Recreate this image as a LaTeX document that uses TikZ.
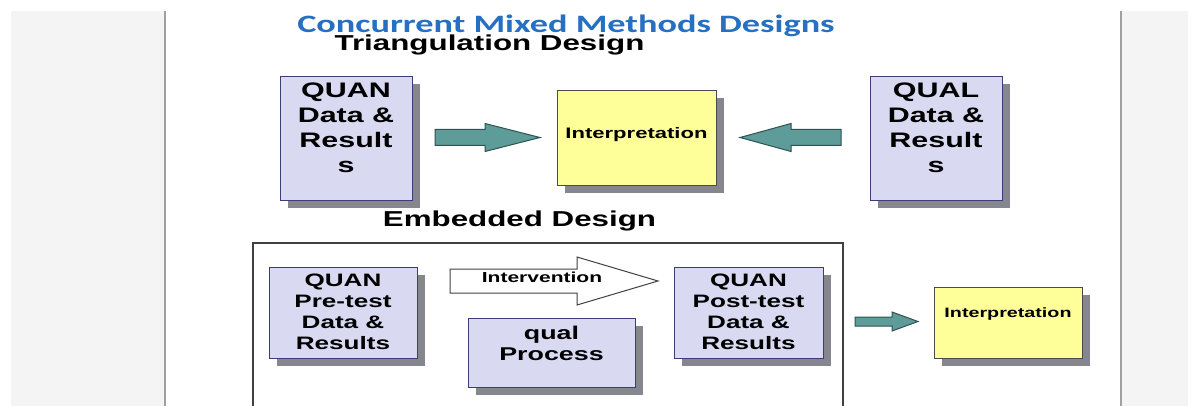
\documentclass[tikz,border=0pt]{standalone}
\usepackage{fontspec}
\setmainfont{Liberation Sans}[FakeStretch=1.45]
\newfontfamily\titlefont{Carlito}[FakeStretch=1.45]
\usetikzlibrary{shadows}

\definecolor{titleblue}{HTML}{2670C4}
\definecolor{boxfill}{HTML}{D9D9F2}
\definecolor{boxline}{HTML}{3C3C78}
\definecolor{notefill}{HTML}{FFFF99}
\definecolor{noteline}{HTML}{4A4A4A}
\definecolor{shadowgray}{HTML}{86868F}
\definecolor{arrowteal}{HTML}{5E9C99}
\definecolor{arrowline}{HTML}{2F5250}
\definecolor{panelgray}{HTML}{F4F4F4}
\definecolor{rulegray}{HTML}{A0A0A0}
\definecolor{frameline}{HTML}{404040}

\tikzset{
  boxshadow/.style={drop shadow={shadow xshift=7pt, shadow yshift=-7pt, fill=shadowgray, opacity=1}},
  datbox/.style={draw=boxline, fill=boxfill, line width=1.2pt, inner sep=0pt, anchor=north west, boxshadow},
  notebox/.style={draw=noteline, fill=notefill, line width=1.2pt, inner sep=0pt, anchor=north west, boxshadow},
  % multi-line labels are anchored at the baseline of their last line
  boxtext/.style={inner sep=0pt, align=center, anchor=base, font=\bfseries},
  heading/.style={inner sep=0pt, anchor=base, font=\bfseries\fontsize{21.6}{26}\selectfont},
  tealarrow/.style={fill=arrowteal, draw=arrowline, line width=1pt, line join=miter},
  openarrow/.style={fill=white, draw=frameline, line width=1pt, line join=miter},
}

\begin{document}
\begin{tikzpicture}[x=1pt, y=-1pt]
\useasboundingbox (0,0) rectangle (1198,406);

% slide background and side panels
\fill[white] (0,0) rectangle (1198,406);
\fill[panelgray] (11,11) rectangle (165,406);
\fill[panelgray] (1121,11) rectangle (1188,406);
\draw[rulegray, line width=2.5pt] (165,11) -- (165,406);
\draw[rulegray, line width=2.5pt] (1121,11) -- (1121,406);

% titles
\node[inner sep=0pt, anchor=base, text=titleblue, font=\titlefont\bfseries\fontsize{25}{30}\selectfont]
  (title) at (566,33) {Concurrent Mixed Methods Designs};
\node[heading] (tri) at (489.5,51) {Triangulation Design};
\node[heading] (emb) at (519.5,226) {Embedded Design};

% ---- triangulation design ----
\node[datbox, minimum width=132pt, minimum height=124pt] (quanA) at (280,76) {};
\node[boxtext, font=\bfseries\fontsize{21}{25}\selectfont] (quanAt) at (346,173) {QUAN\\Data \&\\Result\\s};

\node[notebox, minimum width=159pt, minimum height=95pt] (interA) at (557,90) {};
\node[boxtext, font=\bfseries\fontsize{15.2}{18}\selectfont] (interAt) at (636.5,139) {Interpretation};

\node[datbox, minimum width=132pt, minimum height=124pt] (qualA) at (870,76) {};
\node[boxtext, font=\bfseries\fontsize{21}{25}\selectfont] (qualAt) at (936,173) {QUAL\\Data \&\\Result\\s};

% block arrows towards the interpretation
\draw[tealarrow] (435,129.5) -- (485,129.5) -- (485,123.5) -- (540,137.5)
  -- (485,151.5) -- (485,145.5) -- (435,145.5) -- cycle;
\draw[tealarrow] (841,129.5) -- (791,129.5) -- (791,123.5) -- (740,137.5)
  -- (791,151.5) -- (791,145.5) -- (841,145.5) -- cycle;

% ---- embedded design ----
\draw[frameline, line width=1.3pt] (253,410) -- (253,243) -- (843,243) -- (843,410);

\node[datbox, minimum width=148pt, minimum height=91pt] (pre) at (269,267) {};
\node[boxtext, font=\bfseries\fontsize{18}{20.7}\selectfont] (pret) at (343,349) {QUAN\\Pre-test\\Data \&\\Results};

\node[datbox, minimum width=167pt, minimum height=69pt] (qualB) at (468,318) {};
\node[boxtext, font=\bfseries\fontsize{18.5}{21}\selectfont] (qualBt) at (551.5,360) {qual\\Process};

\node[datbox, minimum width=149pt, minimum height=91pt] (post) at (674,267) {};
\node[boxtext, font=\bfseries\fontsize{18}{20.7}\selectfont] (postt) at (748.5,349) {QUAN\\Post-test\\Data \&\\Results};

% intervention arrow
\draw[openarrow] (450,269) -- (577,269) -- (577,257) -- (658,281)
  -- (577,305) -- (577,293) -- (450,293) -- cycle;
\node[boxtext, font=\bfseries\fontsize{14.5}{17}\selectfont] (interv) at (542,282) {Intervention};

% arrow to the final interpretation
\draw[tealarrow] (855,317) -- (892,317) -- (892,312) -- (918,321.5)
  -- (892,331) -- (892,326) -- (855,326) -- cycle;

\node[notebox, minimum width=148pt, minimum height=71pt] (interB) at (934,287) {};
\node[boxtext, font=\bfseries\fontsize{13.6}{16}\selectfont] (interBt) at (1008,317) {Interpretation};

\end{tikzpicture}
\end{document}
